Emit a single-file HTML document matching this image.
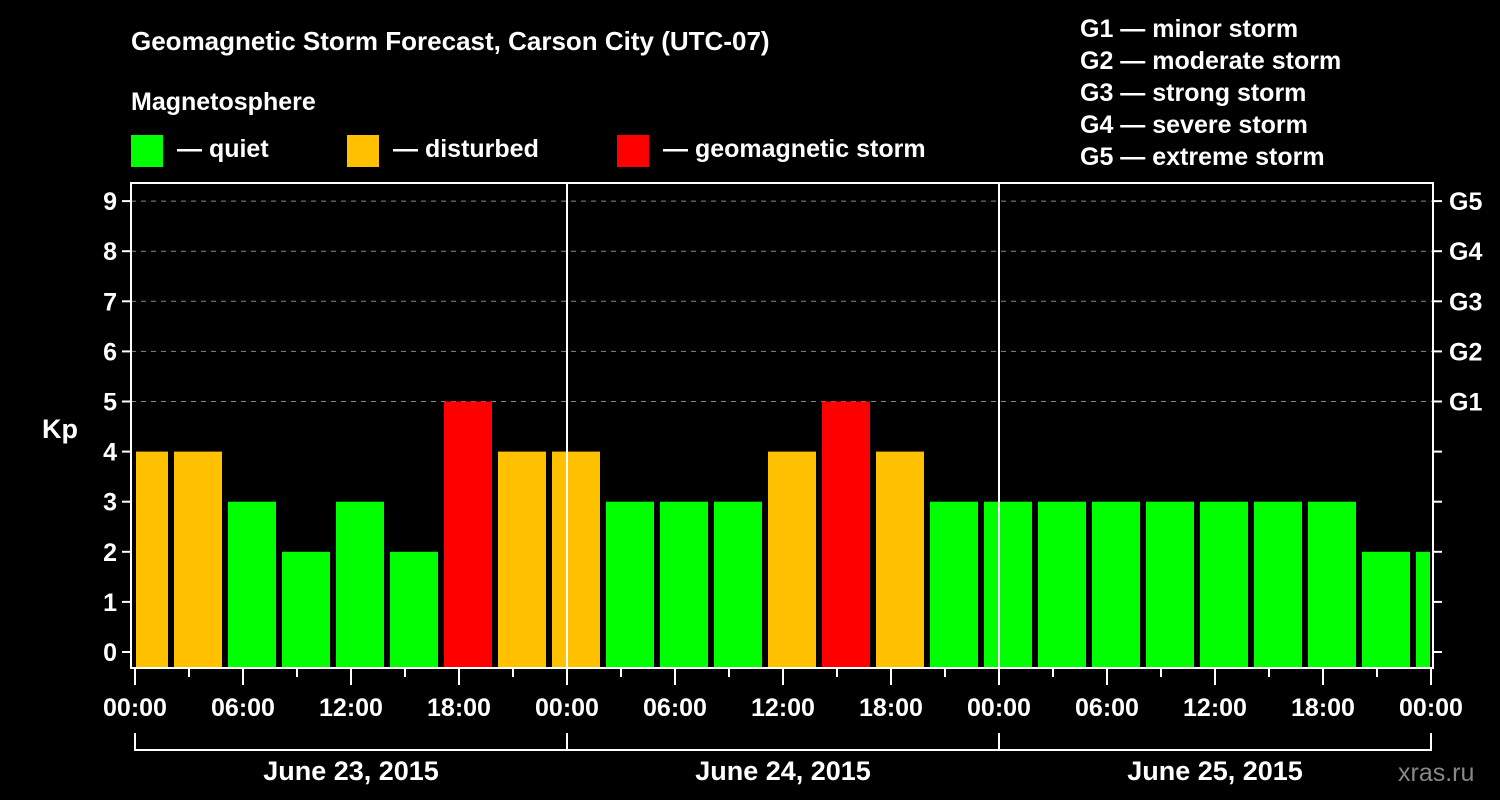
<!DOCTYPE html>
<html><head><meta charset="utf-8"><style>
body{margin:0;background:#000;}
svg{display:block;font-family:"Liberation Sans",Arial,sans-serif;font-weight:bold;}
</style></head><body>
<svg width="1500" height="800" viewBox="0 0 1500 800">
<text x="131" y="50" fill="#fff" font-size="26">Geomagnetic Storm Forecast, Carson City (UTC-07)</text>
<text x="131" y="110" fill="#fff" font-size="25">Magnetosphere</text>
<g><rect x="131" y="135" width="32" height="32" fill="#00ff00"/><text x="177" y="157" fill="#fff" font-size="25">— quiet</text></g>
<g><rect x="347" y="135" width="32" height="32" fill="#ffc000"/><text x="393" y="157" fill="#fff" font-size="25">— disturbed</text></g>
<g><rect x="617" y="135" width="32" height="32" fill="#ff0000"/><text x="663" y="157" fill="#fff" font-size="25">— geomagnetic storm</text></g>
<g fill="#fff" font-size="25">
<text x="1080" y="37">G1 — minor storm</text><text x="1080" y="69">G2 — moderate storm</text><text x="1080" y="101">G3 — strong storm</text><text x="1080" y="133">G4 — severe storm</text><text x="1080" y="165">G5 — extreme storm</text></g>
<text x="42" y="438" fill="#fff" font-size="27">Kp</text>
<text x="1398" y="781" fill="#888" font-size="25" font-weight="normal">xras.ru</text>
<g id="grid"></g><g id="bars"></g><g id="axes"></g>
</svg>
<script>
const kpValues=[4,4,3,2,3,2,5,4,4,3,3,3,4,5,4,3,3,3,3,3,3,3,3,2,2];
const yTicks=[0,1,2,3,4,5,6,7,8,9];
const gLabels=["G1","G2","G3","G4","G5"];
const timeLabels=["00:00","06:00","12:00","18:00","00:00","06:00","12:00","18:00","00:00","06:00","12:00","18:00","00:00"];
const dayLabels=["June 23, 2015","June 24, 2015","June 25, 2015"];
const NS="http://www.w3.org/2000/svg";
const L=131,R=1433,T=183,B=668,X0=135,PXH=18;
const xs=h=>X0+h*PXH, ys=v=>652-v*50.1;
function mk(tag,attrs,parent,txt){const e=document.createElementNS(NS,tag);for(const k in attrs)e.setAttribute(k,attrs[k]);if(txt!==undefined)e.textContent=txt;parent.appendChild(e);return e;}
const grid=document.getElementById('grid'),bars=document.getElementById('bars'),axes=document.getElementById('axes');
for(const v of yTicks){
  if(v>=5){const g=mk('line',{x1:L,x2:R,y1:ys(v),y2:ys(v),stroke:'#888','stroke-dasharray':'5,5','stroke-width':1},grid);
  
  }
  const t=mk('line',{x1:L-9,x2:L,y1:ys(v),y2:ys(v),stroke:'#fff','stroke-width':2},axes);
  
  
  const rt=mk('line',{x1:R,x2:R+9,y1:ys(v),y2:ys(v),stroke:'#fff','stroke-width':2},axes);
  
  
  const lb=mk('text',{x:L-14,y:ys(v)+9,fill:'#fff','font-size':25,'text-anchor':'end'},axes,String(v));
  
  
}
gLabels.forEach((g,i)=>{const t=mk('text',{x:R+16,y:ys(5+i)+9,fill:'#fff','font-size':25},axes,g);

});
kpValues.forEach((v,k)=>{
  const c=xs(3*k+0.5);let x1=c-24,x2=c+24;x1=Math.max(x1,X0+1);x2=Math.min(x2,R-3);
  const col=v>=5?'#ff0000':v>=4?'#ffc000':'#00ff00';
  const r=mk('rect',{x:x1,y:ys(v),width:x2-x1,height:B-ys(v),fill:col},bars);
  
  
});
[1,2].forEach(d=>{const l=mk('line',{x1:xs(24*d),x2:xs(24*d),y1:T,y2:B,stroke:'#fff','stroke-width':2},axes);

});
const fr=mk('rect',{x:L,y:T,width:R-L,height:B-T,fill:'none',stroke:'#fff','stroke-width':2},axes);


for(let h=0;h<=72;h+=3){const major=h%6===0;
  const t=mk('line',{x1:xs(h),x2:xs(h),y1:B,y2:B+(major?17:9),stroke:'#fff','stroke-width':2},axes);
  
  }
timeLabels.forEach((s,i)=>{const t=mk('text',{x:xs(6*i),y:716,fill:'#fff','font-size':25,'text-anchor':'middle'},axes,s);

});
mk('path',{d:`M${xs(0)},733V750H${xs(72)}V733M${xs(24)},733V750M${xs(48)},733V750`,fill:'none',stroke:'#fff','stroke-width':2},axes);
dayLabels.forEach((s,i)=>{const t=mk('text',{x:xs(24*i+12),y:780,fill:'#fff','font-size':27,'text-anchor':'middle'},axes,s);

});
</script>
</body></html>
